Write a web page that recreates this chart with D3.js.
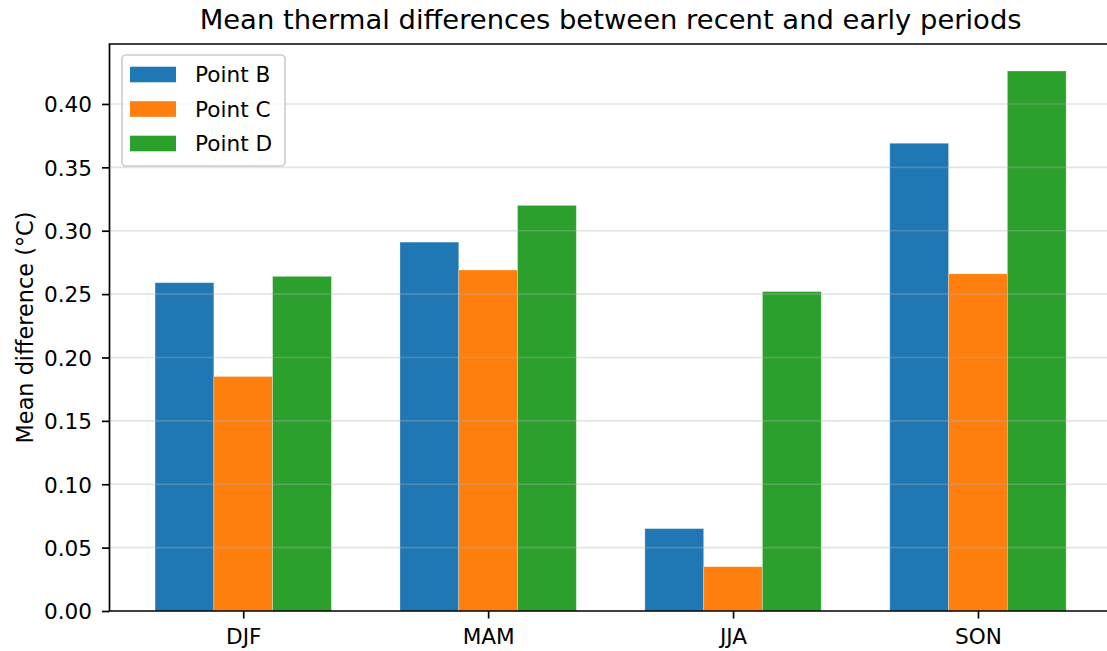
<!DOCTYPE html>
<html><head><meta charset="utf-8">
<script src="https://cdn.jsdelivr.net/npm/d3@7"></script>
<style>body{margin:0;background:#fff}svg{display:block;font-family:"DejaVu Sans",sans-serif}</style>
</head><body><svg id="c" width="1107" height="651"></svg>
<script>
const categories = ["DJF", "MAM", "JJA", "SON"];
const seriesNames = ["Point B", "Point C", "Point D"];
const pointB = [0.259, 0.291, 0.065, 0.369];
const pointC = [0.185, 0.269, 0.035, 0.266];
const pointD = [0.264, 0.320, 0.252, 0.426];
const colors = ["#1f77b4", "#ff7f0e", "#2ca02c"];
const yTicks = [0, 0.05, 0.10, 0.15, 0.20, 0.25, 0.30, 0.35, 0.40];
const series = [pointB, pointC, pointD];

const svg = d3.select("#c");
const L = 109.5, R = 1111.7, T = 44, B = 611;
const FS = 21.6;
const x = d3.scaleLinear().domain([-0.546, 3.546]).range([L, R]);
const y = d3.scaleLinear().domain([0, 0.4473]).range([B, T]);
const bw = 0.24;

// bars
series.forEach((s, si) => {
  svg.append("g").selectAll("rect").data(s).join("rect")
    .attr("x", (d, i) => x(i + (si - 1) * bw - bw / 2))
    .attr("width", x(bw) - x(0))
    .attr("y", d => y(d))
    .attr("height", d => y(0) - y(d))
    .attr("fill", colors[si])
    .attr("stroke", "#fff").attr("stroke-opacity", 0.35).attr("stroke-width", 0.8);
});

// grid (over bars)
svg.append("g").selectAll("line").data(yTicks.slice(1)).join("line")
  .attr("x1", L).attr("x2", R).attr("y1", d => y(d)).attr("y2", d => y(d))
  .attr("stroke", "#b0b0b0").attr("stroke-opacity", 0.35).attr("stroke-width", 1.6);

// axes
const yAxis = svg.append("g").attr("transform", `translate(${L},0)`)
  .call(d3.axisLeft(y).tickValues(yTicks).tickFormat(d3.format(".2f")).tickSize(7.5).tickPadding(10));
const xAxis = svg.append("g").attr("transform", `translate(0,${B})`)
  .call(d3.axisBottom(x).tickValues([0, 1, 2, 3]).tickFormat(i => categories[i]).tickSize(7.5).tickPadding(7));
[yAxis, xAxis].forEach(g => {
  g.select(".domain").remove();
  g.selectAll(".tick line").attr("stroke", "#000").attr("stroke-width", 1.7);
  g.selectAll(".tick text").attr("fill", "#000").style("font-size", FS + "px").style("font-family", "DejaVu Sans");
});
xAxis.selectAll(".tick text").attr("y", 33).attr("dy", "0");
yAxis.selectAll(".tick text").attr("dy", "0.36em");

// spines
const sp = svg.append("g").attr("stroke", "#000").attr("stroke-width", 1.7).attr("fill", "none");
sp.append("line").attr("x1", L).attr("x2", L).attr("y1", T).attr("y2", B);
sp.append("line").attr("x1", L - 0.85).attr("x2", R).attr("y1", B).attr("y2", B);
sp.append("line").attr("x1", L - 0.85).attr("x2", R).attr("y1", T).attr("y2", T);
sp.append("line").attr("x1", R).attr("x2", R).attr("y1", T).attr("y2", B);

// title
svg.append("text").attr("x", (L + R) / 2).attr("y", 29).attr("text-anchor", "middle")
  .style("font-size", "27.4px").attr("fill", "#000")
  .text("Mean thermal differences between recent and early periods");

// y label
svg.append("text").attr("transform", `translate(33.3,${(T + B) / 2}) rotate(-90)`)
  .attr("text-anchor", "middle").style("font-size", "22.4px").attr("fill", "#000")
  .text("Mean difference (°C)");

// legend
const lg = svg.append("g");
lg.append("rect").attr("x", 122).attr("y", 55).attr("width", 163).attr("height", 111)
  .attr("rx", 4).attr("fill", "#fff").attr("fill-opacity", 0.8)
  .attr("stroke", "#cccccc").attr("stroke-width", 1.6);
seriesNames.forEach((n, i) => {
  const cy = 74.5 + i * 34.5;
  lg.append("rect").attr("x", 130).attr("y", cy - 7.8).attr("width", 46).attr("height", 15.6).attr("fill", colors[i]);
  lg.append("text").attr("x", 195).attr("y", cy).attr("dy", "0.36em").style("font-size", FS + "px").attr("fill", "#000").text(n);
});
</script></body></html>
